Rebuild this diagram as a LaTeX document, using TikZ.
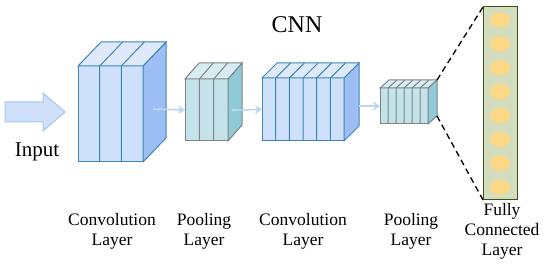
\documentclass[tikz,border=0pt]{standalone}
\usepackage{fontspec}
\setmainfont{Liberation Serif}
\usetikzlibrary{arrows.meta,calc,positioning,shapes.geometric}
\definecolor{ConvLine}{HTML}{3F86B4}
\definecolor{ConvFront}{HTML}{CFE0FA}
\definecolor{ConvTop}{HTML}{DEEAFB}
\definecolor{ConvSide}{HTML}{9DBEF5}
\definecolor{PoolLine}{HTML}{7F8487}
\definecolor{PoolFront}{HTML}{C4E2EA}
\definecolor{PoolTop}{HTML}{D8EDF2}
\definecolor{PoolSide}{HTML}{8FCAD6}
\definecolor{FlowBlue}{HTML}{BCD7EF}
\definecolor{InLine}{HTML}{A6C8E8}
\definecolor{FcFill}{HTML}{D4DDBE}
\definecolor{FcLine}{HTML}{3F4F1A}
\definecolor{Neuron}{HTML}{FDD985}

\tikzset{
  conv front/.style={draw=ConvLine, fill=ConvFront, line width=1pt, inner sep=0pt, outer sep=0pt},
  conv top/.style={draw=ConvLine, fill=ConvTop, line width=1pt},
  conv side/.style={draw=ConvLine, fill=ConvSide, line width=1pt},
  conv line/.style={draw=ConvLine, line width=1pt},
  pool front/.style={draw=PoolLine, fill=PoolFront, line width=1pt, inner sep=0pt, outer sep=0pt},
  pool top/.style={draw=PoolLine, fill=PoolTop, line width=1pt},
  pool side/.style={draw=PoolLine, fill=PoolSide, line width=1pt},
  pool line/.style={draw=PoolLine, line width=1pt},
  flow/.style={-{Stealth[length=7pt,width=9pt]}, FlowBlue, line width=1.6pt},
  lbl/.style={font=\fontsize{17.5}{20}\selectfont, align=center, inner sep=0pt, anchor=north},
  zoomline/.style={black, line width=1.3pt, dash pattern=on 6pt off 4pt}
}

% cuboid layer: name, kind, top-left, width, height, depth, slices
\newcommand{\layerbox}[7]{%
  \node[#2 front, minimum width=#4, minimum height=#5, anchor=north west] (#1) at #3 {};
  \coordinate (#1-tr) at ($(#1.north east)+#6$);
  \coordinate (#1-br) at ($(#1.south east)+#6$);
  \coordinate (#1-tl) at ($(#1.north west)+#6$);
  \draw[#2 side] (#1.north east) -- (#1-tr) -- (#1-br) -- (#1.south east) -- cycle;
  \draw[#2 top] (#1.north west) -- (#1-tl) -- (#1-tr) -- (#1.north east) -- cycle;
  \pgfmathtruncatemacro{\lastk}{#7-1}
  \foreach \k in {1,...,\lastk}
    \draw[#2 line] ($(#1.south west)!\k/#7!(#1.south east)$) -- ($(#1.north west)!\k/#7!(#1.north east)$) -- ++#6;
}

\begin{document}
\begin{tikzpicture}[x=1pt, y=-1pt]
    \useasboundingbox (0,0) rectangle (550,267);

    % Title
    \node[font=\fontsize{24}{28}\selectfont, anchor=base] (title) at (297,33) {CNN};

    % Input arrow
    \draw[draw=InLine, fill=ConvFront, line width=1pt]
      (5,102) -- (43,102) -- (43,93) -- (65,112) -- (43,131) -- (43,122) -- (5,122) -- cycle;
    \node[font=\fontsize{21}{24}\selectfont, anchor=base] (input) at (37,157) {Input};

    % Layers
    \layerbox{conv1}{conv}{(78,66)}{65}{96}{(23,-24)}{3}
    \layerbox{pool1}{pool}{(185,79)}{43}{62}{(14,-16)}{3}
    \layerbox{conv2}{conv}{(262,78)}{82}{63}{(15,-15)}{6}
    \layerbox{pool2}{pool}{(380,88)}{48}{36}{(9,-8)}{6}

    % Flow between layers
    \draw[flow] ($(conv1.east)+(10,-5)$) -- (pool1.west);
    \draw[flow] ($(pool1.east)+(4,0)$) -- (conv2.west);
    \draw[flow] (pool2.west -| conv2-tr) -- (pool2.west);

    % Fully connected layer
    \node[draw=FcLine, fill=FcFill, line width=1pt, minimum width=34, minimum height=193,
          inner sep=0pt, outer sep=0pt, anchor=north west] (fc) at (483,7) {};
    \foreach \i in {1,...,8}
      \node[ellipse, fill=Neuron, minimum width=20, minimum height=15, inner sep=0pt]
        (n\i) at ($(fc.north)+(0,{13+(\i-1)*23.9})$) {};

    % Zoom lines
    \draw[zoomline] (pool2-tr) -- (fc.north west);
    \draw[zoomline] (pool2-br) -- (fc.south west);

    % Labels
    \node[lbl] (conv1lbl) at (112,213) {Convolution\\Layer};
    \node[lbl] (pool1lbl) at (204,213) {Pooling\\Layer};
    \node[lbl] (conv2lbl) at (303,213) {Convolution\\Layer};
    \node[lbl] (pool2lbl) at (411,213) {Pooling\\Layer};
    \node[lbl] (fclbl) at (502,203) {Fully\\Connected\\Layer};
\end{tikzpicture}
\end{document}
